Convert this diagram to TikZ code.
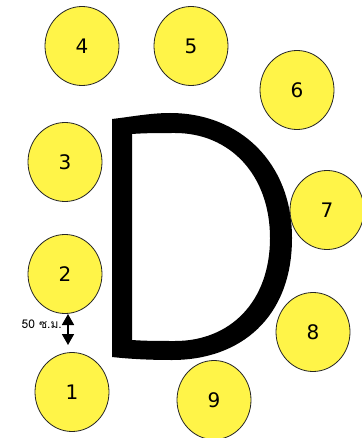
\documentclass[tikz,border=0pt]{standalone}
\usepackage{fontspec}
\newfontfamily\digitfont{DejaVu Sans}
\newfontfamily\thaifont[Script=Thai]{Loma}
\usetikzlibrary{arrows.meta,shapes.geometric}
\definecolor{seat}{RGB}{255,244,72}
\begin{document}
\begin{tikzpicture}[x=1pt,y=-1pt,
  seatnode/.style={ellipse,draw=black!85,line width=0.8pt,fill=seat,minimum width=74pt,minimum height=79pt,inner sep=0pt,font=\digitfont\fontsize{20}{20}\selectfont},
  gap/.style={line width=1.6pt,{Triangle[width=12pt,length=11pt]}-{Triangle[width=12pt,length=11pt]}}]
\useasboundingbox[fill=white] (0,0) rectangle (361,438);
% letter D
\fill[black,even odd rule]
  (112,119) -- (112,357) .. controls (130,359) and (150,360) .. (172,360)
  .. controls (240,360) and (292,318) .. (292,238)
  .. controls (292,163) and (240,113) .. (170,113)
  .. controls (150,113) and (130,117) .. (112,119) -- cycle
  (132,134) -- (132,340) .. controls (145,341) and (160,341) .. (175,341)
  .. controls (230,341) and (270,302) .. (270,238)
  .. controls (270,175) and (230,133) .. (175,133)
  .. controls (160,133) and (145,133) .. (132,134) -- cycle;
% seats
\node[seatnode] (s1) at (72,392) {1};
\node[seatnode] (s2) at (65,274) {2};
\node[seatnode] (s3) at (65,162) {3};
\node[seatnode] (s4) at (82,46) {4};
\node[seatnode] (s5) at (191,46) {5};
\node[seatnode] (s6) at (297,90) {6};
\node[seatnode] (s7) at (327,210) {7};
\node[seatnode] (s8) at (313,332) {8};
\node[seatnode] (s9) at (214,400) {9};
% distance marker
\coordinate (gtop) at (68,314);
\coordinate (gbot) at (68,345);
\draw[gap] (gtop) -- (gbot);
\node[anchor=east,inner sep=0pt,font=\thaifont\fontsize{12}{12}\selectfont] (lbl) at (62,324) {50 ซ.ม.};
\end{tikzpicture}
\end{document}
